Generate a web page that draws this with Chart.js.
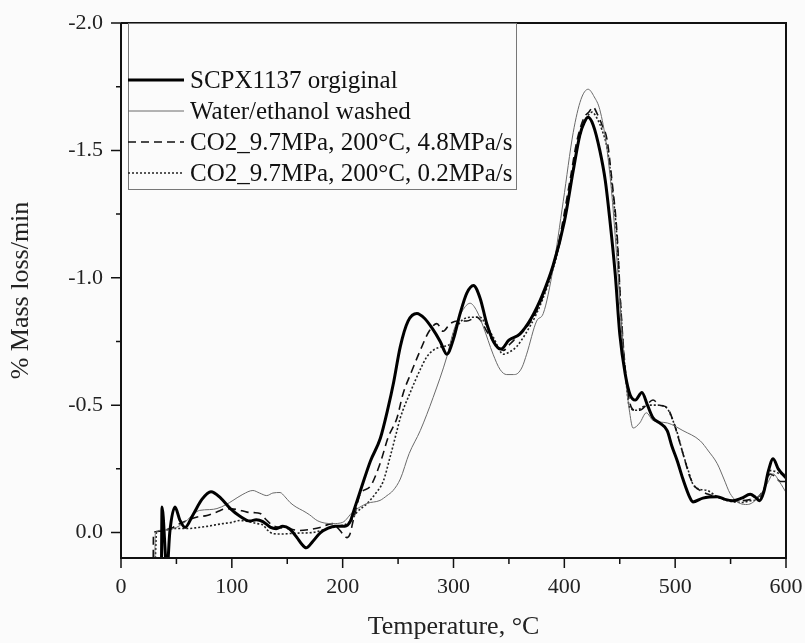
<!DOCTYPE html>
<html>
<head>
<meta charset="utf-8">
<script src="https://cdn.jsdelivr.net/npm/chart.js@4.4.1/dist/chart.umd.min.js"></script>
<style>
  html, body { margin: 0; padding: 0; background: #fbfbfb; }
  #wrap { width: 805px; height: 643px; }
</style>
</head>
<body>
<div id="wrap"><canvas id="dtg" width="805" height="643"></canvas></div>
<script>
// ---- data ----
const seriesNames = [
  'SCPX1137 orgiginal',
  'Water/ethanol washed',
  'CO2_9.7MPa, 200°C, 4.8MPa/s',
  'CO2_9.7MPa, 200°C, 0.2MPa/s'
];

const tOriginal = [36.5, 37, 41.5, 44, 48.7, 53, 57.8, 65, 73, 81.2, 90, 98.4, 107, 116.4, 122, 128, 135, 140, 146, 152, 158.8, 163, 167, 173, 180, 186, 193, 202, 207, 210, 215.7, 225, 234, 241, 246, 252, 259, 267, 274, 281, 288, 294, 300, 306, 312, 318, 324, 330, 336, 343, 350, 360, 370, 380, 390, 400, 408, 414, 418, 421.5, 426, 432, 437, 441, 446, 450, 455, 459.4, 464, 470, 475, 480, 486, 492.8, 497, 502, 507, 513.5, 516, 525, 538, 545, 552, 560, 567.7, 572, 576, 580, 584, 588.4, 593, 601];
const vOriginal = [0.15, -0.10, 0.15, 0.0, -0.10, -0.05, -0.02, -0.07, -0.13, -0.16, -0.135, -0.095, -0.065, -0.045, -0.05, -0.043, -0.02, -0.015, -0.025, -0.015, 0.02, 0.045, 0.06, 0.035, 0.0, -0.015, -0.025, -0.025, -0.045, -0.085, -0.16, -0.28, -0.37, -0.49, -0.59, -0.73, -0.83, -0.86, -0.84, -0.80, -0.75, -0.70, -0.76, -0.86, -0.94, -0.97, -0.92, -0.82, -0.75, -0.72, -0.755, -0.78, -0.84, -0.93, -1.05, -1.22, -1.42, -1.56, -1.61, -1.63, -1.60, -1.50, -1.38, -1.23, -1.01, -0.78, -0.62, -0.54, -0.52, -0.55, -0.50, -0.45, -0.43, -0.40, -0.34, -0.28, -0.21, -0.135, -0.12, -0.135, -0.14, -0.13, -0.125, -0.135, -0.15, -0.14, -0.125, -0.16, -0.24, -0.29, -0.25, -0.21];

const tWashed = [30.5, 31, 40, 50, 60, 66, 71, 80, 86.6, 95, 101, 110, 119, 125, 131.5, 137, 143.5, 148, 152.5, 158, 164, 170, 177, 184, 191, 200, 209, 222, 233.7, 240, 245.5, 252, 260, 270, 281.6, 294, 300, 308, 315, 321, 326.7, 335.7, 342, 348, 354, 358, 362, 366, 375, 381, 390, 399, 408, 415, 421.5, 427, 432, 438, 443, 447, 451, 455, 459, 462, 468, 474, 480, 493, 507, 522.6, 530, 538, 544, 549.6, 558.7, 565, 570, 575, 579.5, 584, 588.4, 594, 601];
const vWashed = [0.1, 0.0, -0.01, -0.02, -0.05, -0.075, -0.087, -0.09, -0.094, -0.11, -0.126, -0.15, -0.165, -0.155, -0.145, -0.155, -0.157, -0.14, -0.118, -0.10, -0.086, -0.07, -0.047, -0.037, -0.035, -0.04, -0.08, -0.114, -0.126, -0.145, -0.165, -0.21, -0.31, -0.40, -0.53, -0.69, -0.79, -0.87, -0.90, -0.87, -0.81, -0.70, -0.64, -0.62, -0.62, -0.625, -0.65, -0.70, -0.83, -0.86, -1.04, -1.30, -1.57, -1.70, -1.74, -1.71, -1.66, -1.52, -1.32, -1.10, -0.85, -0.62, -0.47, -0.41, -0.43, -0.47, -0.44, -0.43, -0.40, -0.36, -0.32, -0.27, -0.21, -0.153, -0.114, -0.11, -0.118, -0.14, -0.165, -0.20, -0.23, -0.20, -0.15];

const tFast = [29, 29.3, 35, 40, 47, 53, 59.5, 68, 77.6, 86, 95.7, 105, 113.7, 120, 125.5, 131, 137, 143, 150, 161.5, 170, 179.6, 186, 191, 195, 197.6, 201, 204, 206.7, 209.5, 212, 215.7, 224.7, 233.7, 241, 249, 254.5, 262, 270, 278, 285, 290.6, 297, 304, 312, 321, 325, 330, 337, 345, 351, 357, 365, 375, 385, 395, 405, 411.5, 418, 422, 426, 430, 434, 438.6, 443, 447.6, 451, 455, 459, 464, 468, 474, 480, 486, 492.8, 498, 503, 507, 513.5, 518, 522.6, 530, 538, 552, 560, 567.7, 575, 580, 585.7, 590, 595, 601];
const vFast = [0.15, 0.0, -0.005, -0.01, -0.02, -0.035, -0.047, -0.06, -0.067, -0.08, -0.094, -0.09, -0.08, -0.078, -0.075, -0.05, -0.027, -0.02, -0.016, -0.008, -0.012, -0.02, -0.03, -0.035, -0.02, -0.008, 0.01, 0.02, 0.005, -0.047, -0.09, -0.15, -0.18, -0.27, -0.373, -0.45, -0.545, -0.63, -0.715, -0.79, -0.82, -0.79, -0.82, -0.83, -0.83, -0.845, -0.83, -0.79, -0.745, -0.715, -0.74, -0.766, -0.80, -0.87, -0.98, -1.14, -1.38, -1.54, -1.63, -1.65, -1.67, -1.64, -1.60, -1.54, -1.38, -1.17, -0.88, -0.64, -0.51, -0.48, -0.48, -0.50, -0.52, -0.50, -0.49, -0.44, -0.37, -0.31, -0.216, -0.18, -0.165, -0.15, -0.14, -0.125, -0.125, -0.13, -0.14, -0.17, -0.23, -0.22, -0.20, -0.20];

const tSlow = [31, 32, 40, 47, 55, 62, 70, 77.6, 85, 92, 100, 107, 115, 122.7, 128, 132, 137, 145, 152.5, 162, 173, 182, 191, 198, 204, 209, 213, 222, 230, 236.5, 243, 249, 252, 261, 270, 276, 281.6, 290, 297, 300, 307, 315, 324, 330, 336, 345, 351, 357, 365, 375, 385, 395, 405, 412, 418, 422, 425, 429, 434, 439, 443, 447.6, 451, 455, 459, 465, 474.5, 484, 492.8, 497, 502, 507, 511, 516, 522, 529, 538, 547, 561, 568, 575, 580, 585.7, 590, 595, 601];
const vSlow = [0.1, 0.0, -0.01, -0.016, -0.016, -0.016, -0.02, -0.024, -0.03, -0.035, -0.04, -0.047, -0.043, -0.035, -0.03, -0.01, 0.004, 0.006, 0.004, 0.002, 0.0, -0.01, -0.02, -0.027, -0.035, -0.055, -0.08, -0.114, -0.155, -0.2, -0.3, -0.4, -0.45, -0.55, -0.64, -0.69, -0.715, -0.73, -0.74, -0.78, -0.83, -0.845, -0.845, -0.81, -0.766, -0.70, -0.71, -0.73, -0.78, -0.86, -0.97, -1.12, -1.35, -1.52, -1.61, -1.64, -1.65, -1.63, -1.58, -1.50, -1.36, -1.15, -0.87, -0.63, -0.49, -0.48, -0.50, -0.50, -0.487, -0.45, -0.39, -0.31, -0.255, -0.19, -0.17, -0.165, -0.14, -0.125, -0.118, -0.125, -0.13, -0.16, -0.243, -0.24, -0.23, -0.23];

const xMajor = [0, 100, 200, 300, 400, 500, 600];
const xMinor = [50, 150, 250, 350, 450, 550];
const yMajor = [-2.0, -1.5, -1.0, -0.5, 0.0];
const yMinor = [-1.75, -1.25, -0.75, -0.25];

const pts = (xs, ys) => xs.map((x, i) => ({ x: x, y: ys[i] }));
const serif = '"Liberation Serif", "DejaVu Serif", serif';

// axes frame, outward ticks and the boxed legend
const framePlugin = {
  id: 'frame',
  afterDraw(chart) {
    const ctx = chart.ctx, a = chart.chartArea;
    const xs = chart.scales.x, ys = chart.scales.y;
    ctx.save();
    ctx.strokeStyle = '#111';
    ctx.lineWidth = 2;
    ctx.beginPath();
    ctx.moveTo(a.left, a.top); ctx.lineTo(a.left, a.bottom); ctx.lineTo(a.right, a.bottom);
    ctx.lineTo(a.right, a.top); ctx.lineTo(a.left, a.top);
    ctx.stroke();
    ctx.lineWidth = 1.5;
    ctx.beginPath();
    xMajor.forEach(v => { const p = xs.getPixelForValue(v); ctx.moveTo(p, a.bottom); ctx.lineTo(p, a.bottom + 10); });
    xMinor.forEach(v => { const p = xs.getPixelForValue(v); ctx.moveTo(p, a.bottom); ctx.lineTo(p, a.bottom + 6); });
    yMajor.forEach(v => { const p = ys.getPixelForValue(v); ctx.moveTo(a.left, p); ctx.lineTo(a.left - 10, p); });
    yMinor.forEach(v => { const p = ys.getPixelForValue(v); ctx.moveTo(a.left, p); ctx.lineTo(a.left - 5, p); });
    ctx.stroke();

    // legend box
    const bx = 128, by = a.top, bw = 388, bh = 166;
    ctx.fillStyle = '#fbfbfb';
    ctx.fillRect(bx, by, bw, bh);
    ctx.strokeStyle = '#777';
    ctx.lineWidth = 1;
    ctx.strokeRect(bx + 0.5, by + 0.5, bw, bh);
    const rows = [80, 111, 142, 173];
    ctx.font = '25px ' + serif;
    ctx.textBaseline = 'middle';
    chart.data.datasets.forEach((ds, i) => {
      ctx.strokeStyle = ds.borderColor;
      ctx.lineWidth = ds.borderWidth;
      ctx.setLineDash(ds.borderDash || []);
      ctx.beginPath();
      ctx.moveTo(bx, rows[i]); ctx.lineTo(bx + 56, rows[i]);
      ctx.stroke();
      ctx.setLineDash([]);
      ctx.fillStyle = '#111';
      ctx.fillText(ds.label, bx + 62, rows[i] + 1);
    });
    ctx.restore();
  }
};

new Chart(document.getElementById('dtg'), {
  type: 'line',
  data: {
    datasets: [
      { label: seriesNames[0], data: pts(tOriginal, vOriginal), borderColor: '#000', borderWidth: 3 },
      { label: seriesNames[1], data: pts(tWashed, vWashed), borderColor: '#6a6a6a', borderWidth: 1 },
      { label: seriesNames[2], data: pts(tFast, vFast), borderColor: '#111', borderWidth: 1.6, borderDash: [8, 5] },
      { label: seriesNames[3], data: pts(tSlow, vSlow), borderColor: '#222', borderWidth: 1.6, borderDash: [2, 2] }
    ]
  },
  options: {
    responsive: false,
    animation: false,
    layout: { padding: { top: 23, right: 19, left: 0, bottom: 0 } },
    elements: {
      point: { radius: 0 },
      line: { cubicInterpolationMode: 'monotone', fill: false }
    },
    plugins: { legend: { display: false }, tooltip: { enabled: false } },
    scales: {
      x: {
        type: 'linear', min: 0, max: 600,
        afterFit: s => { s.height = 85; s.paddingLeft = 0; s.paddingRight = 0; },
        afterBuildTicks: s => { s.ticks = xMajor.map(v => ({ value: v })); },
        grid: { display: false, drawTicks: false },
        border: { display: false },
        ticks: { color: '#222', padding: 16, maxRotation: 0, font: { family: serif, size: 22 } },
        title: { display: true, text: 'Temperature, °C', color: '#222', padding: { top: 0, bottom: 0 }, font: { family: serif, size: 26 } }
      },
      y: {
        type: 'linear', reverse: true, min: -2.0, max: 0.1,
        afterFit: s => { s.width = 121; s.paddingTop = 0; s.paddingBottom = 0; },
        afterBuildTicks: s => { s.ticks = yMajor.map(v => ({ value: v })); },
        grid: { display: false, drawTicks: false },
        border: { display: false },
        ticks: { color: '#222', padding: 18, callback: v => v.toFixed(1), font: { family: serif, size: 22 } },
        title: { display: true, text: '% Mass loss/min', color: '#222', padding: { top: 6, bottom: 0 }, font: { family: serif, size: 26 } }
      }
    }
  },
  plugins: [framePlugin]
});
</script>
</body>
</html>
